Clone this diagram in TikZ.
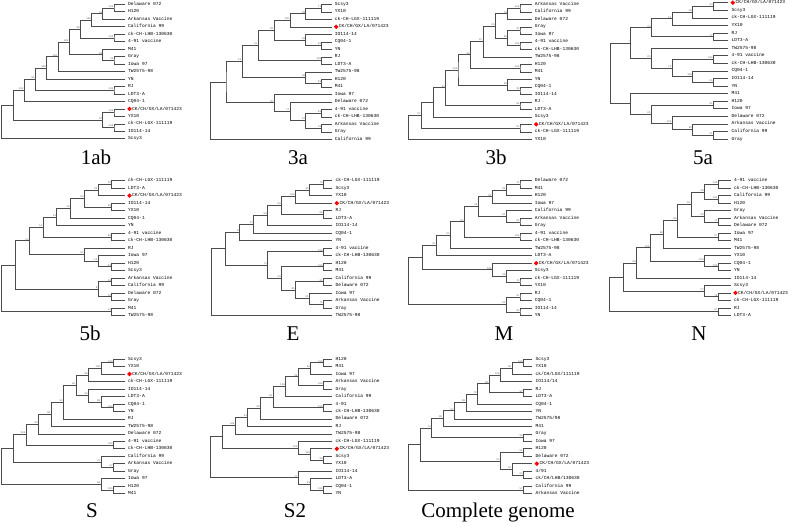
\documentclass[tikz,border=0pt]{standalone}
\usepackage{fontspec}
\setmainfont{Liberation Serif}
\newfontfamily\labfont{Liberation Mono}
\usetikzlibrary{calc,shapes.geometric}
\tikzset{
  branch/.style={draw=black!70, line width=0.6pt},
  leafname/.style={anchor=west, inner xsep=3pt, inner ysep=0.5pt, font=\labfont\fontsize{4.6}{5}\selectfont, text height=3.1pt, text depth=0.8pt},
  boot/.style={anchor=south east, inner sep=0.4pt, font=\labfont\fontsize{2.6}{3}\selectfont, text=black!60},
  redmark/.style={diamond, fill=red, inner sep=0pt, minimum size=4.8pt},
  paneltitle/.style={anchor=base, font=\fontsize{21}{24}\selectfont}
}
\newcommand\panel[5]{\def\tipx{#1}\def\xa{#2}\def\sw{#3}\def\yo{#4}\def\dy{#5}}
\newcommand\leaf[3]{\node[leafname] (#1) at (\tipx,\yo+#2*\dy) {#3};}
\newcommand\ckleaf[2]{\node[leafname] (#1) at (\tipx,\yo+#2*\dy) {\hspace*{4pt}CK/CH/GX/LA/071423};
  \node[redmark] (#1m) at ([xshift=4.5pt]#1.west) {};}
\newcommand\clade[5]{\coordinate (tmp) at ($(#3)!0.5!(#4)$);
  \pgfmathsetmacro\cx{\xa-(#2-1)*\sw}
  \coordinate (#1) at (\cx,0 |- tmp);
  \draw[branch] (#3) -| (#1) |- (#4);
  \node[boot] (#1b) at (#1) {#5};}
\begin{document}
\begin{tikzpicture}[x=1pt,y=-1pt]
\useasboundingbox (0,0) rectangle (791,522);

\begin{scope}[name prefix=ab-]
\panel{125}{114}{11.23}{4.3}{7.47}
\leaf{dl}{0}{Delaware 072}
\leaf{h}{1}{H120}
\leaf{ar}{2}{Arkansas Vaccine}
\leaf{ca}{3}{California 99}
\leaf{lhb}{4}{ck-CH-LHB-130630}
\leaf{v}{5}{4-91 vaccine}
\leaf{m}{6}{M41}
\leaf{gr}{7}{Gray}
\leaf{io}{8}{Iowa 97}
\leaf{tw}{9}{TW2575-98}
\leaf{yn}{10}{YN}
\leaf{rj}{11}{RJ}
\leaf{ld}{12}{LDT3-A}
\leaf{cq}{13}{CQ04-1}
\ckleaf{ck}{14}
\leaf{yx}{15}{YX10}
\leaf{lgx}{16}{ck-CH-LGX-111119}
\leaf{ioo}{17}{IO114-14}
\leaf{sc}{18}{Scsy3}
\clade{n1}{1}{dl}{h}{100}
\clade{n2}{2}{n1}{ar}{52}
\clade{n3}{3}{n2}{ca}{100}
\clade{n4}{1}{lhb}{v}{100}
\clade{n5}{4}{n3}{n4}{98}
\clade{n6}{1}{gr}{io}{99}
\clade{n7}{2}{m}{n6}{99}
\clade{n8}{5}{n5}{n7}{100}
\clade{n9}{6}{n8}{tw}{100}
\clade{n10}{7}{n9}{yn}{100}
\clade{n11}{1}{rj}{ld}{100}
\clade{n12}{8}{n10}{n11}{85}
\clade{n13}{9}{n12}{cq}{100}
\clade{n14}{1}{ck}{yx}{100}
\clade{n15}{1}{lgx}{ioo}{100}
\clade{n16}{2}{n14}{n15}{97}
\clade{n17}{10}{n13}{n16}{}
\clade{n18}{11}{n17}{sc}{}
\node[paneltitle] (title) at (96,164) {1ab};
\end{scope}

\begin{scope}[name prefix=ta-]
\panel{331.7}{321.7}{15.95}{4.3}{7.5}
\leaf{sc}{0}{Scsy3}
\leaf{yx}{1}{YX10}
\leaf{lgx}{2}{ck-CH-LGX-111119}
\ckleaf{ck}{3}
\leaf{ioo}{4}{IO114-14}
\leaf{cq}{5}{CQ04-1}
\leaf{yn}{6}{YN}
\leaf{rj}{7}{RJ}
\leaf{ld}{8}{LDT3-A}
\leaf{tw}{9}{TW2575-98}
\leaf{h}{10}{H120}
\leaf{m}{11}{M41}
\leaf{io}{12}{Iowa 97}
\leaf{dl}{13}{Delaware 072}
\leaf{v}{14}{4-91 vaccine}
\leaf{lhb}{15}{ck-CH-LHB-130630}
\leaf{ar}{16}{Arkansas Vaccine}
\leaf{gr}{17}{Gray}
\leaf{ca}{18}{California 99}
\clade{a1}{1}{sc}{yx}{71}
\clade{a2}{2}{a1}{lgx}{99}
\clade{a3}{3}{a2}{ck}{100}
\clade{b1}{1}{cq}{yn}{96}
\clade{b2}{2}{ioo}{b1}{98}
\clade{b3}{4}{a3}{b2}{98}
\clade{c1}{1}{rj}{ld}{100}
\clade{b4}{5}{b3}{c1}{91}
\clade{d1}{1}{h}{m}{99}
\clade{d2}{2}{tw}{d1}{98}
\clade{b5}{6}{b4}{d2}{51}
\clade{e1}{1}{v}{lhb}{99}
\clade{e2}{1}{ar}{gr}{78}
\clade{e3}{2}{e1}{e2}{87}
\clade{e4}{3}{dl}{e3}{72}
\clade{e5}{4}{io}{e4}{96}
\clade{f}{7}{b5}{e5}{}
\clade{r}{8}{f}{ca}{}
\node[paneltitle] (title) at (298,164) {3a};
\end{scope}

\begin{scope}[name prefix=tb-]
\panel{531.7}{520}{12.4}{4.3}{7.5}
\leaf{ar}{0}{Arkansas Vaccine}
\leaf{ca}{1}{California 99}
\leaf{dl}{2}{Delaware 072}
\leaf{gr}{3}{Gray}
\leaf{io}{4}{Iowa 97}
\leaf{v}{5}{4-91 vaccine}
\leaf{lhb}{6}{ck-CH-LHB-130630}
\leaf{tw}{7}{TW2575-98}
\leaf{h}{8}{H120}
\leaf{m}{9}{M41}
\leaf{yn}{10}{YN}
\leaf{cq}{11}{CQ04-1}
\leaf{ioo}{12}{IO114-14}
\leaf{rj}{13}{RJ}
\leaf{ld}{14}{LDT3-A}
\leaf{sc}{15}{Scsy3}
\ckleaf{ck}{16}
\leaf{lgx}{17}{ck-CH-LGX-111119}
\leaf{yx}{18}{YX10}
\clade{p1}{1}{ar}{ca}{100}
\clade{p2}{2}{p1}{dl}{78}
\clade{p3}{1}{gr}{io}{91}
\clade{p4}{1}{v}{lhb}{100}
\clade{p5}{2}{p3}{p4}{90}
\clade{p6}{3}{p2}{p5}{96}
\clade{p7}{4}{p6}{tw}{97}
\clade{q1}{1}{h}{m}{100}
\clade{p8}{5}{p7}{q1}{96}
\clade{r1}{1}{cq}{ioo}{99}
\clade{r2}{2}{yn}{r1}{99}
\clade{p9}{6}{p8}{r2}{100}
\clade{s1}{1}{rj}{ld}{99}
\clade{p10}{7}{p9}{s1}{97}
\clade{p11}{8}{p10}{sc}{}
\clade{t1}{1}{ck}{lgx}{51}
\clade{p12}{9}{p11}{t1}{72}
\clade{r}{10}{p12}{yx}{}
\node[paneltitle] (title) at (496,164) {3b};
\end{scope}

\begin{scope}[name prefix=fa-]
\panel{728.3}{713.3}{20.7}{2.7}{7.57}
\ckleaf{ck}{0}
\leaf{sc}{1}{Scsy3}
\leaf{lgx}{2}{ck-CH-LGX-111119}
\leaf{yx}{3}{YX10}
\leaf{rj}{4}{RJ}
\leaf{ld}{5}{LDT3-A}
\leaf{tw}{6}{TW2575-98}
\leaf{v}{7}{4-91 vaccine}
\leaf{lhb}{8}{ck-CH-LHB-130630}
\leaf{cq}{9}{CQ04-1}
\leaf{ioo}{10}{IO114-14}
\leaf{yn}{11}{YN}
\leaf{m}{12}{M41}
\leaf{h}{13}{H120}
\leaf{io}{14}{Iowa 97}
\leaf{dl}{15}{Delaware 072}
\leaf{ar}{16}{Arkansas Vaccine}
\leaf{ca}{17}{California 99}
\leaf{gr}{18}{Gray}
\clade{u1}{1}{ck}{sc}{54}
\clade{u2}{2}{u1}{lgx}{68}
\clade{u3}{3}{u2}{yx}{51}
\clade{u4}{1}{rj}{ld}{77}
\clade{u5}{4}{u3}{u4}{23}
\clade{v1}{1}{v}{lhb}{100}
\clade{w1}{1}{ioo}{yn}{66}
\clade{w2}{2}{cq}{w1}{100}
\clade{v2}{3}{v1}{w2}{70}
\clade{v3}{4}{tw}{v2}{83}
\clade{u6}{5}{u5}{v3}{7}
\clade{y1}{1}{h}{io}{81}
\clade{c1}{1}{ca}{gr}{51}
\clade{c2}{2}{ar}{c1}{65}
\clade{c3}{3}{dl}{c2}{100}
\clade{x4}{4}{y1}{c3}{81}
\clade{x5}{5}{m}{x4}{}
\clade{r}{6}{u6}{x5}{}
\node[paneltitle] (title) at (703,164) {5a};
\end{scope}

\begin{scope}[name prefix=fb-]
\panel{125}{111.7}{13.75}{180.7}{7.48}
\leaf{lgx}{0}{ck-CH-LGX-111119}
\leaf{ld}{1}{LDT3-A}
\ckleaf{ck}{2}
\leaf{ioo}{3}{IO114-14}
\leaf{yx}{4}{YX10}
\leaf{cq}{5}{CQ04-1}
\leaf{yn}{6}{YN}
\leaf{v}{7}{4-91 vaccine}
\leaf{lhb}{8}{ck-CH-LHB-130630}
\leaf{rj}{9}{RJ}
\leaf{io}{10}{Iowa 97}
\leaf{h}{11}{H120}
\leaf{sc}{12}{Scsy3}
\leaf{ar}{13}{Arkansas Vaccine}
\leaf{ca}{14}{California 99}
\leaf{dl}{15}{Delaware 072}
\leaf{gr}{16}{Gray}
\leaf{m}{17}{M41}
\leaf{tw}{18}{TW2575-98}
\clade{g1}{1}{lgx}{ld}{55}
\clade{g2}{2}{g1}{ck}{88}
\clade{g3}{1}{ioo}{yx}{89}
\clade{g4}{3}{g2}{g3}{60}
\clade{g5}{4}{g4}{cq}{40}
\clade{g6}{5}{g5}{yn}{53}
\clade{h1}{1}{v}{lhb}{88}
\clade{g7}{6}{g6}{h1}{53}
\clade{i1}{1}{h}{sc}{99}
\clade{i2}{2}{io}{i1}{22}
\clade{i3}{3}{rj}{i2}{95}
\clade{g8}{7}{g7}{i3}{54}
\clade{j1}{1}{ar}{ca}{28}
\clade{j2}{1}{dl}{gr}{35}
\clade{j3}{2}{j1}{j2}{8}
\clade{g9}{8}{g8}{j3}{}
\clade{k1}{1}{m}{tw}{31}
\clade{r}{9}{g9}{k1}{}
\node[paneltitle] (title) at (90,340) {5b};
\end{scope}

\begin{scope}[name prefix=e-]
\panel{332.3}{323.3}{13.96}{180.7}{7.48}
\leaf{lgx}{0}{ck-CH-LGX-111119}
\leaf{sc}{1}{Scsy3}
\leaf{yx}{2}{YX10}
\ckleaf{ck}{3}
\leaf{rj}{4}{RJ}
\leaf{ld}{5}{LDT3-A}
\leaf{ioo}{6}{IO114-14}
\leaf{cq}{7}{CQ04-1}
\leaf{yn}{8}{YN}
\leaf{v}{9}{4-91 vaccine}
\leaf{lhb}{10}{ck-CH-LHB-130630}
\leaf{h}{11}{H120}
\leaf{m}{12}{M41}
\leaf{ca}{13}{California 99}
\leaf{dl}{14}{Delaware 072}
\leaf{io}{15}{Iowa 97}
\leaf{ar}{16}{Arkansas Vaccine}
\leaf{gr}{17}{Gray}
\leaf{tw}{18}{TW2575-98}
\clade{e1}{1}{lgx}{sc}{73}
\clade{e2}{2}{e1}{yx}{96}
\clade{e3}{3}{e2}{ck}{100}
\clade{e4}{1}{rj}{ld}{96}
\clade{e5}{4}{e3}{e4}{86}
\clade{e6}{5}{e5}{ioo}{58}
\clade{e7}{6}{e6}{cq}{57}
\clade{e8}{7}{e7}{yn}{8}
\clade{f1}{1}{v}{lhb}{100}
\clade{f2}{1}{h}{m}{100}
\clade{f3}{1}{ca}{dl}{61}
\clade{f4}{1}{ar}{gr}{71}
\clade{f5}{2}{io}{f4}{51}
\clade{f6}{3}{f3}{f5}{85}
\clade{f7}{4}{f2}{f6}{58}
\clade{f8}{5}{f1}{f7}{73}
\clade{e9}{8}{e8}{f8}{}
\clade{r}{9}{e9}{tw}{}
\node[paneltitle] (title) at (293,340) {E};
\end{scope}

\begin{scope}[name prefix=m-]
\panel{531.7}{520}{13.96}{180.7}{7.5}
\leaf{dl}{0}{Delaware 072}
\leaf{m}{1}{M41}
\leaf{h}{2}{H120}
\leaf{io}{3}{Iowa 97}
\leaf{ca}{4}{California 99}
\leaf{ar}{5}{Arkansas Vaccine}
\leaf{gr}{6}{Gray}
\leaf{v}{7}{4-91 vaccine}
\leaf{lhb}{8}{ck-CH-LHB-130630}
\leaf{tw}{9}{TW2575-98}
\leaf{ld}{10}{LDT3-A}
\ckleaf{ck}{11}
\leaf{sc}{12}{Scsy3}
\leaf{lgx}{13}{ck-CH-LGX-111119}
\leaf{yx}{14}{YX10}
\leaf{rj}{15}{RJ}
\leaf{cq}{16}{CQ04-1}
\leaf{ioo}{17}{IO114-14}
\leaf{yn}{18}{YN}
\clade{m1}{1}{dl}{m}{72}
\clade{m2}{2}{m1}{h}{89}
\clade{m3}{3}{m2}{io}{95}
\clade{m4}{1}{ar}{gr}{84}
\clade{m5}{2}{ca}{m4}{87}
\clade{m6}{4}{m3}{m5}{49}
\clade{m7}{1}{v}{lhb}{100}
\clade{m8}{5}{m6}{m7}{83}
\clade{m9}{6}{m8}{tw}{99}
\clade{m10}{7}{m9}{ld}{67}
\clade{n1}{1}{lgx}{yx}{74}
\clade{n2}{2}{sc}{n1}{99}
\clade{n3}{3}{ck}{n2}{100}
\clade{m11}{8}{m10}{n3}{}
\clade{o1}{1}{rj}{cq}{91}
\clade{o2}{1}{ioo}{yn}{99}
\clade{o3}{2}{o1}{o2}{93}
\clade{r}{9}{m11}{o3}{}
\node[paneltitle] (title) at (504,340) {M};
\end{scope}

\begin{scope}[name prefix=n-]
\panel{731}{718}{13.6}{180.7}{7.48}
\leaf{v}{0}{4-91 vaccine}
\leaf{lhb}{1}{ck-CH-LHB-130630}
\leaf{ca}{2}{California 99}
\leaf{h}{3}{H120}
\leaf{gr}{4}{Gray}
\leaf{ar}{5}{Arkansas Vaccine}
\leaf{dl}{6}{Delaware 072}
\leaf{io}{7}{Iowa 97}
\leaf{m}{8}{M41}
\leaf{tw}{9}{TW2575-98}
\leaf{yx}{10}{YX10}
\leaf{cq}{11}{CQ04-1}
\leaf{yn}{12}{YN}
\leaf{ioo}{13}{IO114-14}
\leaf{sc}{14}{Scsy3}
\ckleaf{ck}{15}
\leaf{lgx}{16}{ck-CH-LGX-111119}
\leaf{rj}{17}{RJ}
\leaf{ld}{18}{LDT3-A}
\clade{q1}{1}{v}{lhb}{100}
\clade{q2}{1}{ca}{h}{100}
\clade{q3}{2}{q1}{q2}{98}
\clade{q4}{1}{ar}{dl}{77}
\clade{q5}{2}{gr}{q4}{99}
\clade{q6}{3}{q3}{q5}{83}
\clade{q7}{1}{io}{m}{57}
\clade{q8}{4}{q6}{q7}{86}
\clade{q9}{5}{q8}{tw}{88}
\clade{r1}{1}{cq}{yn}{100}
\clade{r2}{2}{yx}{r1}{100}
\clade{q10}{6}{q9}{r2}{100}
\clade{q11}{7}{q10}{ioo}{88}
\clade{s1}{1}{ck}{lgx}{78}
\clade{s2}{2}{sc}{s1}{57}
\clade{q12}{8}{q11}{s2}{}
\clade{t1}{1}{rj}{ld}{67}
\clade{r}{9}{q12}{t1}{}
\node[paneltitle] (title) at (699,340) {N};
\end{scope}

\begin{scope}[name prefix=s-]
\panel{125}{113.3}{12.48}{359}{7.48}
\leaf{sc}{0}{Scsy3}
\leaf{yx}{1}{YX10}
\ckleaf{ck}{2}
\leaf{lgx}{3}{ck-CH-LGX-111119}
\leaf{ioo}{4}{IO114-14}
\leaf{ld}{5}{LDT3-A}
\leaf{cq}{6}{CQ04-1}
\leaf{yn}{7}{YN}
\leaf{rj}{8}{RJ}
\leaf{tw}{9}{TW2575-98}
\leaf{dl}{10}{Delaware 072}
\leaf{v}{11}{4-91 vaccine}
\leaf{lhb}{12}{ck-CH-LHB-130630}
\leaf{ca}{13}{California 99}
\leaf{ar}{14}{Arkansas Vaccine}
\leaf{gr}{15}{Gray}
\leaf{io}{16}{Iowa 97}
\leaf{h}{17}{H120}
\leaf{m}{18}{M41}
\clade{s1}{1}{sc}{yx}{100}
\clade{s2}{2}{s1}{ck}{100}
\clade{s3}{3}{s2}{lgx}{98}
\clade{t1}{1}{cq}{yn}{100}
\clade{t2}{2}{ld}{t1}{88}
\clade{t3}{3}{ioo}{t2}{96}
\clade{s4}{4}{s3}{t3}{83}
\clade{s5}{5}{s4}{rj}{53}
\clade{s6}{6}{s5}{tw}{98}
\clade{s7}{7}{s6}{dl}{96}
\clade{u1}{1}{v}{lhb}{100}
\clade{s8}{8}{s7}{u1}{100}
\clade{v1}{1}{ar}{gr}{57}
\clade{v2}{2}{ca}{v1}{72}
\clade{s9}{9}{s8}{v2}{}
\clade{w1}{1}{h}{m}{100}
\clade{w2}{2}{io}{w1}{58}
\clade{r}{10}{s9}{w2}{}
\node[paneltitle] (title) at (92,517) {S};
\end{scope}

\begin{scope}[name prefix=st-]
\panel{332.3}{323.3}{12.6}{359}{7.48}
\leaf{h}{0}{H120}
\leaf{m}{1}{M41}
\leaf{io}{2}{Iowa 97}
\leaf{ar}{3}{Arkansas Vaccine}
\leaf{gr}{4}{Gray}
\leaf{ca}{5}{California 99}
\leaf{v}{6}{4-91}
\leaf{lhb}{7}{ck-CH-LHB-130630}
\leaf{dl}{8}{Delaware 072}
\leaf{rj}{9}{RJ}
\leaf{tw}{10}{TW2575-98}
\leaf{lgx}{11}{ck-CH-LGX-111119}
\ckleaf{ck}{12}
\leaf{sc}{13}{Scsy3}
\leaf{yx}{14}{YX10}
\leaf{ioo}{15}{IO114-14}
\leaf{ld}{16}{LDT3-A}
\leaf{cq}{17}{CQ04-1}
\leaf{yn}{18}{YN}
\clade{a1}{1}{h}{m}{100}
\clade{a2}{2}{a1}{io}{96}
\clade{b1}{1}{ar}{gr}{100}
\clade{a3}{3}{a2}{b1}{99}
\clade{a4}{4}{a3}{ca}{100}
\clade{c1}{1}{v}{lhb}{100}
\clade{a5}{5}{a4}{c1}{92}
\clade{a6}{6}{a5}{dl}{90}
\clade{a7}{7}{a6}{rj}{83}
\clade{a8}{8}{a7}{tw}{100}
\clade{d1}{1}{sc}{yx}{99}
\clade{d2}{2}{ck}{d1}{100}
\clade{d3}{3}{lgx}{d2}{100}
\clade{a9}{9}{a8}{d3}{}
\clade{e1}{1}{cq}{yn}{100}
\clade{e2}{2}{ld}{e1}{93}
\clade{e3}{3}{ioo}{e2}{77}
\clade{r}{10}{a9}{e3}{}
\node[paneltitle] (title) at (295,517) {S2};
\end{scope}

\begin{scope}[name prefix=cg-]
\panel{532.3}{523.3}{11.5}{359}{7.48}
\leaf{sc}{0}{Scsy3}
\leaf{yx}{1}{YX10}
\leaf{lgx}{2}{ck/CH/LGX/111119}
\leaf{ioo}{3}{IO114/14}
\leaf{rj}{4}{RJ}
\leaf{ld}{5}{LDT3-A}
\leaf{cq}{6}{CQ04-1}
\leaf{yn}{7}{YN}
\leaf{tw}{8}{TW2575/98}
\leaf{m}{9}{M41}
\leaf{gr}{10}{Gray}
\leaf{io}{11}{Iowa 97}
\leaf{h}{12}{H120}
\leaf{dl}{13}{Delaware 072}
\ckleaf{ck}{14}
\leaf{v}{15}{4/91}
\leaf{lhb}{16}{ck/CH/LHB/130630}
\leaf{ca}{17}{California 99}
\leaf{ar}{18}{Arkansas Vaccine}
\clade{c1}{1}{sc}{yx}{100}
\clade{c2}{2}{c1}{lgx}{99}
\clade{c3}{3}{c2}{ioo}{100}
\clade{d1}{1}{rj}{ld}{97}
\clade{c4}{4}{c3}{d1}{88}
\clade{c5}{5}{c4}{cq}{78}
\clade{c6}{6}{c5}{yn}{86}
\clade{c7}{7}{c6}{tw}{97}
\clade{c8}{8}{c7}{m}{88}
\clade{e1}{1}{gr}{io}{99}
\clade{c9}{9}{c8}{e1}{72}
\clade{f1}{1}{h}{dl}{51}
\clade{g1}{1}{v}{lhb}{53}
\clade{g2}{2}{ck}{g1}{54}
\clade{f2}{3}{f1}{g2}{53}
\clade{c10}{10}{c9}{f2}{}
\clade{h1}{1}{ca}{ar}{57}
\clade{r}{11}{c10}{h1}{}
\node[paneltitle] (title) at (498,517) {Complete genome};
\end{scope}
\end{tikzpicture}
\end{document}
